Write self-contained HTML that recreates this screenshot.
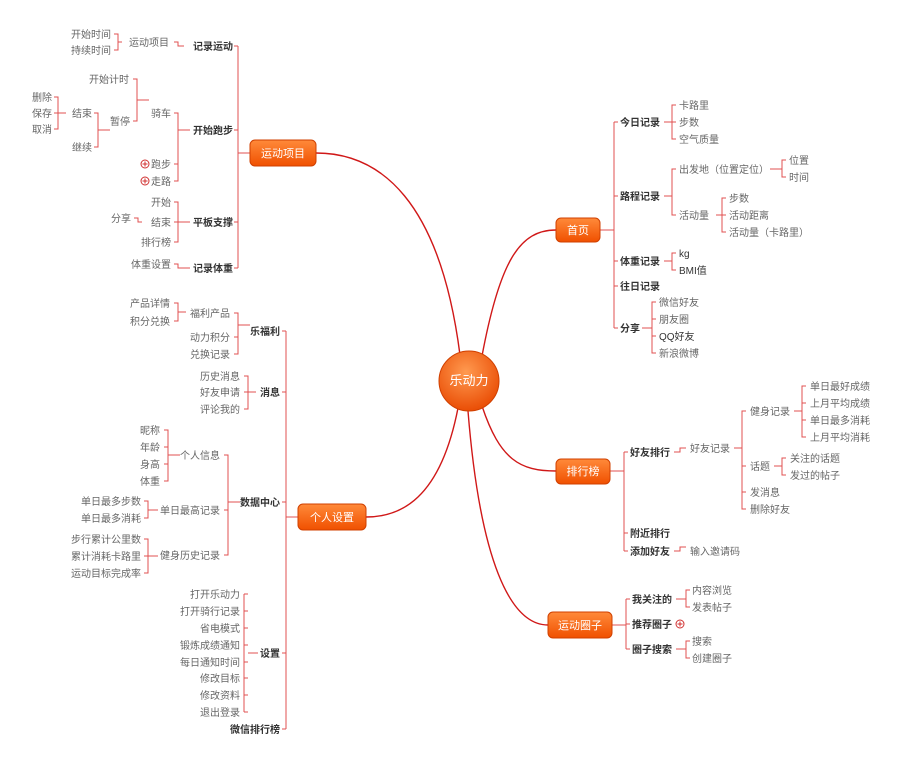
<!DOCTYPE html>
<html><head><meta charset="utf-8"><style>
html,body{margin:0;padding:0;background:#fff}
svg{display:block}
text{font-family:"Liberation Sans","Noto Sans CJK SC",sans-serif;font-size:10px;fill:#666}
.b{fill:#333;font-weight:bold}
.r{text-anchor:end}
.n{fill:#fff;font-size:11px;text-anchor:middle}
.l{stroke:#e05050;stroke-width:1;fill:none}
.m{stroke:#d01818;stroke-width:1.4;fill:none}
</style></head><body>
<svg width="900" height="764" viewBox="0 0 900 764">
<defs>
<linearGradient id="g" x1="0" y1="0" x2="0" y2="1"><stop offset="0" stop-color="#ff8a3a"/><stop offset="1" stop-color="#f05000"/></linearGradient>
<radialGradient id="c" cx="0.45" cy="0.35" r="0.7"><stop offset="0" stop-color="#ff9a50"/><stop offset="1" stop-color="#e84800"/></radialGradient>
</defs>
<path class="m" d="M460 355 C440 200 380 153 316 153"/>
<path class="m" d="M458 408 C440 500 400 517 366 517"/>
<path class="m" d="M482 356 C500 260 520 230 556 230"/>
<path class="m" d="M482 406 C500 460 520 471 556 471"/>
<path class="m" d="M468 411 C480 560 510 625 548 625"/>

<path class="l" d="M238 46V268 M238 46h-4 M238 130h-4 M238 222h-4 M238 268h-4 M238 153h12"/>
<path class="l" d="M114 34h4v16h-4 M118 42h4 M174 42h4v4h6"/>
<path class="l" d="M133 79h4v42h-4 M137 100h12"/>
<path class="l" d="M54 97h4v32h-4 M54 113h12"/>
<path class="l" d="M94 113h4v34h-4 M98 130h12"/>
<path class="l" d="M174 113h4v68h-4 M174 164h4 M178 130h12"/>
<path class="l" d="M174 202h4v40h-4 M174 222h16 M134 218h4v4h4"/>
<path class="l" d="M174 264h4v4h12"/>
<text x="111" y="38" class="r">开始时间</text><text x="111" y="54" class="r">持续时间</text>
<text x="169" y="46" class="r">运动项目</text>
<text x="193" y="50" class="b">记录运动</text>
<text x="129" y="83" class="r">开始计时</text><text x="130" y="125" class="r">暂停</text>
<text x="52" y="101" class="r">删除</text><text x="52" y="117" class="r">保存</text><text x="52" y="133" class="r">取消</text>
<text x="92" y="117" class="r">结束</text><text x="92" y="151" class="r">继续</text>
<text x="171" y="117" class="r">骑车</text>
<circle cx="145" cy="164" r="4" fill="none" stroke="#d03030"/><path d="M142.5 164h5M145 161.5v5" stroke="#d03030"/>
<text x="171" y="168" class="r">跑步</text>
<circle cx="145" cy="181" r="4" fill="none" stroke="#d03030"/><path d="M142.5 181h5M145 178.5v5" stroke="#d03030"/>
<text x="171" y="185" class="r">走路</text>
<text x="193" y="134" class="b">开始跑步</text>
<text x="171" y="206" class="r">开始</text><text x="171" y="226" class="r">结束</text><text x="171" y="246" class="r">排行榜</text>
<text x="131" y="222" class="r">分享</text>
<text x="193" y="226" class="b">平板支撑</text>
<text x="171" y="268" class="r">体重设置</text>
<text x="193" y="272" class="b">记录体重</text>
<rect x="250" y="140" width="66" height="26" rx="5" fill="url(#g)" stroke="#d04000"/>
<text x="283" y="157" class="n">运动项目</text>

<path class="l" d="M286 331V729 M286 331h-4 M286 392h-4 M286 502h-4 M286 653h-4 M286 729h-4 M286 517h12"/>
<path class="l" d="M234 313h4v41h-4 M234 337h4 M238 325h12"/>
<path class="l" d="M174 303h4v18h-4 M178 312h8"/>
<path class="l" d="M244 376h4v33h-4 M244 392h12"/>
<path class="l" d="M224 455h4v100h-4 M224 510h4 M228 502h12"/>
<path class="l" d="M164 430h4v51h-4 M164 447h4 M164 464h4 M168 455h12"/>
<path class="l" d="M144 501h4v17h-4 M148 510h10"/>
<path class="l" d="M144 539h4v34h-4 M144 556h14"/>
<path class="l" d="M244 594v118 M244 594h4 M244 611h4 M244 628h4 M244 645h4 M244 662h4 M244 678h4 M244 695h4 M244 712h4 M248 653h10"/>
<text x="170" y="307" class="r">产品详情</text><text x="170" y="325" class="r">积分兑换</text>
<text x="230" y="317" class="r">福利产品</text><text x="230" y="341" class="r">动力积分</text><text x="230" y="358" class="r">兑换记录</text>
<text x="280" y="335" class="b r">乐福利</text>
<text x="240" y="380" class="r">历史消息</text><text x="240" y="396" class="r">好友申请</text><text x="240" y="413" class="r">评论我的</text>
<text x="280" y="396" class="b r">消息</text>
<text x="160" y="434" class="r">昵称</text><text x="160" y="451" class="r">年龄</text><text x="160" y="468" class="r">身高</text><text x="160" y="485" class="r">体重</text>
<text x="220" y="459" class="r">个人信息</text><text x="220" y="514" class="r">单日最高记录</text><text x="220" y="559" class="r">健身历史记录</text>
<text x="141" y="505" class="r">单日最多步数</text><text x="141" y="522" class="r">单日最多消耗</text>
<text x="141" y="543" class="r">步行累计公里数</text><text x="141" y="560" class="r">累计消耗卡路里</text><text x="141" y="577" class="r">运动目标完成率</text>
<text x="280" y="506" class="b r">数据中心</text>
<text x="240" y="598" class="r">打开乐动力</text><text x="240" y="615" class="r">打开骑行记录</text><text x="240" y="632" class="r">省电模式</text><text x="240" y="649" class="r">锻炼成绩通知</text><text x="240" y="666" class="r">每日通知时间</text><text x="240" y="682" class="r">修改目标</text><text x="240" y="699" class="r">修改资料</text><text x="240" y="716" class="r">退出登录</text>
<text x="280" y="657" class="b r">设置</text>
<text x="280" y="733" class="b r">微信排行榜</text>
<rect x="298" y="504" width="68" height="26" rx="5" fill="url(#g)" stroke="#d04000"/>
<text x="332" y="521" class="n">个人设置</text>

<circle cx="469" cy="381" r="30" fill="url(#c)" stroke="#d04000"/>
<text x="469" y="385" class="n" style="font-size:13px">乐动力</text>

<path class="l" d="M600 230h14 M614 122V328 M614 122h4 M614 196h4 M614 261h4 M614 286h4 M614 328h4"/>
<path class="l" d="M676 105h-4v34h4 M672 122h4 M664 122h8"/>
<path class="l" d="M676 169h-4v46h4 M664 196h8"/>
<path class="l" d="M786 160h-4v17h4 M770 169h12"/>
<path class="l" d="M726 198h-4v34h4 M716 215h10"/>
<path class="l" d="M676 253h-4v17h4 M664 261h8"/>
<path class="l" d="M656 302h-4v51h4 M652 319h4 M652 336h4 M642 328h10"/>
<text x="620" y="126" class="b">今日记录</text><text x="620" y="200" class="b">路程记录</text><text x="620" y="265" class="b">体重记录</text><text x="620" y="290" class="b">往日记录</text><text x="620" y="332" class="b">分享</text>
<text x="679" y="109">卡路里</text><text x="679" y="126">步数</text><text x="679" y="143">空气质量</text>
<text x="679" y="173">出发地（位置定位）</text><text x="679" y="219">活动量</text>
<text x="789" y="164">位置</text><text x="789" y="181">时间</text>
<text x="729" y="202">步数</text><text x="729" y="219">活动距离</text><text x="729" y="236">活动量（卡路里）</text>
<text x="679" y="257" style="fill:#333">kg</text><text x="679" y="274" style="fill:#333">BMI值</text>
<text x="659" y="306">微信好友</text><text x="659" y="323">朋友圈</text><text x="659" y="340" style="fill:#333">QQ好友</text><text x="659" y="357">新浪微博</text>
<rect x="556" y="218" width="44" height="24" rx="5" fill="url(#g)" stroke="#d04000"/>
<text x="578" y="234" class="n">首页</text>

<path class="l" d="M610 471h14 M624 452V551 M624 452h4 M624 533h4 M624 551h4"/>
<path class="l" d="M674 452h6v-4h6 M674 551h6v-4h6"/>
<path class="l" d="M746 411h-4v98h4 M742 466h4 M742 492h4 M734 448h8"/>
<path class="l" d="M806 386h-4v51h4 M802 403h4 M802 420h4 M794 411h8"/>
<path class="l" d="M786 458h-4v17h4 M774 466h8"/>
<text x="630" y="456" class="b">好友排行</text><text x="630" y="537" class="b">附近排行</text><text x="630" y="555" class="b">添加好友</text>
<text x="690" y="452">好友记录</text><text x="690" y="555">输入邀请码</text>
<text x="750" y="415">健身记录</text><text x="750" y="470">话题</text><text x="750" y="496">发消息</text><text x="750" y="513">删除好友</text>
<text x="810" y="390">单日最好成绩</text><text x="810" y="407">上月平均成绩</text><text x="810" y="424">单日最多消耗</text><text x="810" y="441">上月平均消耗</text>
<text x="790" y="462">关注的话题</text><text x="790" y="479">发过的帖子</text>
<rect x="556" y="459" width="54" height="25" rx="5" fill="url(#g)" stroke="#d04000"/>
<text x="583" y="475" class="n">排行榜</text>

<path class="l" d="M612 625h14 M626 599V649 M626 599h4 M626 624h4 M626 649h4"/>
<path class="l" d="M690 590h-4v17h4 M676 599h10"/>
<path class="l" d="M690 641h-4v17h4 M676 649h10"/>
<text x="632" y="603" class="b">我关注的</text><text x="632" y="628" class="b">推荐圈子</text><text x="632" y="653" class="b">圈子搜索</text>
<circle cx="680" cy="624" r="4" fill="none" stroke="#d03030"/><path d="M677.5 624h5M680 621.5v5" stroke="#d03030"/>
<text x="692" y="594">内容浏览</text><text x="692" y="611">发表帖子</text>
<text x="692" y="645">搜索</text><text x="692" y="662">创建圈子</text>
<rect x="548" y="612" width="64" height="26" rx="5" fill="url(#g)" stroke="#d04000"/>
<text x="580" y="629" class="n">运动圈子</text>
</svg>
</body></html>
